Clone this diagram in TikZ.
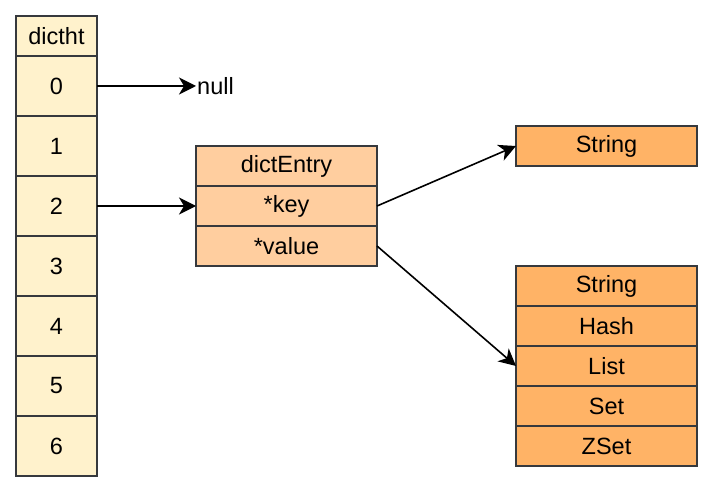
\documentclass[tikz,border=0pt]{standalone}
\usepackage{fontspec}
\setmainfont{Liberation Sans}
\usetikzlibrary{arrows.meta}
\definecolor{cream}{HTML}{FFF2CC}
\definecolor{lorange}{HTML}{FFCE9F}
\definecolor{dorange}{HTML}{FFB366}
\definecolor{linec}{HTML}{36393D}
\begin{document}
\begin{tikzpicture}[x=1pt,y=-1pt,
  base/.style={draw=linec, line width=1.6pt, inner sep=0pt, outer sep=0pt, anchor=north west, font=\fontsize{23.5}{28}\selectfont, text=black},
  htcell/.style={base, fill=cream, minimum width=81pt, minimum height=60pt},
  hthead/.style={base, fill=cream, minimum width=81pt, minimum height=40pt},
  entrycell/.style={base, fill=lorange, minimum width=181pt, minimum height=40pt},
  typecell/.style={base, fill=dorange, minimum width=181pt, minimum height=40pt},
  arr/.style={line width=1.6pt, black, -{Stealth[length=17pt,width=17pt,inset=5pt]}}]
\useasboundingbox[fill=white] (0,0) rectangle (714,494);
% dictht column
\node[hthead] (head) at (16,16) {dictht};
\node[htcell] (c0) at (16,56) {0};
\node[htcell] (c1) at (16,116) {1};
\node[htcell] (c2) at (16,176) {2};
\node[htcell] (c3) at (16,236) {3};
\node[htcell] (c4) at (16,296) {4};
\node[htcell] (c5) at (16,356) {5};
\node[htcell] (c6) at (16,416) {6};
% null
\node[anchor=west, inner sep=1pt, font=\fontsize{23.5}{28}\selectfont] (null) at (196,86) {null};
% dictEntry
\node[entrycell] (entry) at (196,146) {dictEntry};
\node[entrycell] (key) at (196,186) {*key};
\node[entrycell] (value) at (196,226) {*value};
% single String
\node[typecell] (str) at (516,126) {String};
% type list
\node[typecell] (tstring) at (516,266) {String};
\node[typecell] (thash) at (516,306) {Hash};
\node[typecell] (tlist) at (516,346) {List};
\node[typecell] (tset) at (516,386) {Set};
\node[typecell] (tzset) at (516,426) {ZSet};
% connectors
\draw[arr] (c0.east) -- (null.west);
\draw[arr] (c2.east) -- (key.west);
\draw[arr] (key.east) -- (str.west);
\draw[arr] (value.east) -- (tlist.west);
\end{tikzpicture}
\end{document}
